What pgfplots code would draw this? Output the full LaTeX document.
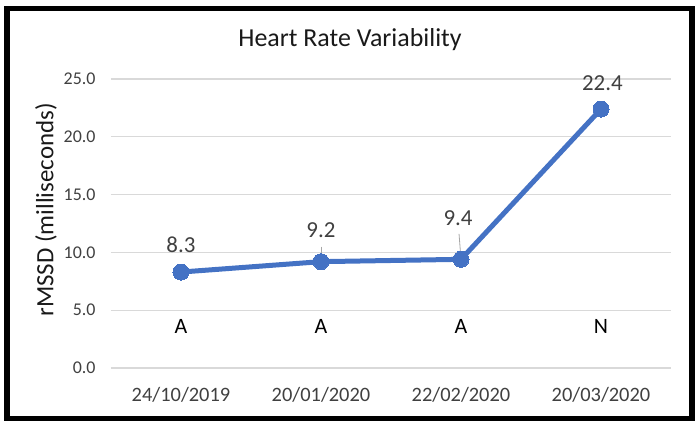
\documentclass[border=0pt]{standalone}
\usepackage{pgfplots}
\pgfplotsset{compat=1.18}
\usepackage{fontspec}
\setmainfont{Carlito}
\definecolor{xlblue}{HTML}{4472C4}
\definecolor{gridc}{HTML}{D9D9D9}
\definecolor{ticktxt}{HTML}{404040}
\definecolor{labtxt}{HTML}{404040}
\definecolor{leader}{HTML}{A6A6A6}

\begin{document}
\begin{tikzpicture}
\path[use as bounding box] (-111bp,-55bp) rectangle (587bp,368bp);
\begin{axis}[
    name=ax, at={(0,0)}, anchor=south west,
    scale only axis, width=560bp, height=289bp,
    xmin=-0.5, xmax=3.5, ymin=0, ymax=25,
    xtick={0,1,2,3},
    xticklabels={24/10/2019,20/01/2020,22/02/2020,20/03/2020},
    ytick={0,5,10,15,20,25},
    ymajorgrids, grid style={draw=gridc, line width=1.3bp},
    axis line style={draw=none},
    major tick length=0pt,
    /pgf/number format/assume math mode=true,
    yticklabel={\pgfmathprintnumber[fixed,fixed zerofill,precision=1]{\tick}},
    yticklabel style={font=\fontsize{18}{20}\selectfont, text=ticktxt, anchor=east, xshift=-12bp},
    xticklabel style={font=\fontsize{20.5}{22}\selectfont, text=ticktxt, anchor=center, yshift=-27bp},
    ylabel={rMSSD (milliseconds)},
    every axis y label/.style={at={(axis description cs:-0.116,0.547)}, rotate=90, anchor=center,
        font=\fontsize{25}{27}\selectfont, text=black!90},
    title={Heart Rate Variability},
    every axis title/.style={at={(axis description cs:0.4268,1.135)}, anchor=center,
        font=\fontsize{26}{28}\selectfont, text=black!90},
    clip=false,
]
% leader lines for moved data labels
\addplot[leader, line width=0.8bp] coordinates {(1,10.5) (1,9.2)};
\addplot[leader, line width=0.8bp] coordinates {(1.986,11.6) (2,9.4)};
% the series
\addplot[xlblue, line width=5bp, mark=*, mark size=8bp, mark options={fill=xlblue, draw=xlblue, line width=0pt}]
  coordinates {(0,8.3) (1,9.2) (2,9.4) (3,22.4)};
% data labels
\addplot[draw=none, nodes near coords, point meta=explicit symbolic, nodes near coords align=center,
  every node near coord/.append style={font=\fontsize{23}{25}\selectfont, text=labtxt}]
  table[meta=lab] {
x y lab
0 10.64 8.3
1 11.94 9.2
1.979 12.98 9.4
3.01 24.6 22.4
};
% category letters
\addplot[draw=none, nodes near coords, point meta=explicit symbolic, nodes near coords align=center,
  every node near coord/.append style={font=\fontsize{22}{24}\selectfont, text=black}]
  table[meta=lab] {
x y lab
0 3.55 A
1 3.55 A
2 3.55 A
3 3.55 N
};
\end{axis}
\draw[line width=5.5bp] (-104bp,-50.5bp) rectangle (581bp,359.5bp);
\end{tikzpicture}
\end{document}
